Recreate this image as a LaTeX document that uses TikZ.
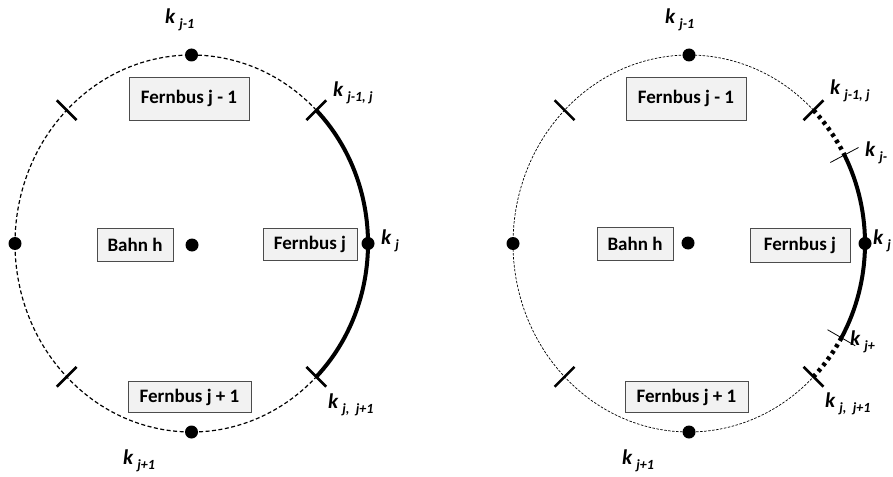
\documentclass[tikz,border=0pt]{standalone}
\usepackage{fontspec}
\setmainfont{Carlito}
\usetikzlibrary{calc}
% label "k" with a lowered index
\newcommand\klab[1]{{\fontsize{21}{21}\selectfont\bfseries\itshape k\hspace{4pt}\raisebox{-4.5pt}{\fontsize{14}{14}\selectfont #1}}}
\begin{document}
\begin{tikzpicture}[x=1pt,y=1pt,
  box/.style={draw=black!70, fill=black!5, line width=0.9pt, inner sep=0pt,
    font=\fontsize{19}{19}\selectfont\bfseries},
  dot/.style={circle, fill=black, inner sep=0pt, minimum size=13pt},
  lab/.style={anchor=west, inner sep=0pt},
  tickmark/.style={line width=2.6pt},
  finetick/.style={line width=0.8pt},
  ring/.style={line width=1.2pt, dash pattern=on 4pt off 2.5pt},
  finering/.style={line width=0.7pt, dash pattern=on 2.5pt off 1.5pt},
  boldarc/.style={line width=4pt},
  dotarc/.style={line width=4.5pt, dash pattern=on 3.5pt off 4pt}]
\useasboundingbox (0,0) rectangle (893,-476);

% ---------------- left ring ----------------
\begin{scope}[shift={(191.5,-243.5)}]
  \coordinate (LA) at (45:176.5 and 188.5);
  \coordinate (LB) at (-45:176.5 and 188.5);
  \draw[ring] (LA) arc[start angle=45, end angle=315, x radius=176.5, y radius=188.5];
  \draw[boldarc] (LB) arc[start angle=-45, end angle=45, x radius=176.5, y radius=188.5];
  \foreach \a in {45,135,225,315}
    \draw[tickmark] (\a:162.5 and 174.5) -- (\a:190.5 and 202.5);
  \node[dot] (Ltop) at (90:176.5 and 188.5) {};
  \node[dot] (Lbot) at (270:176.5 and 188.5) {};
  \node[dot] (Lleft) at (180:176.5 and 188.5) {};
  \node[dot] (Lright) at (0:176.5 and 188.5) {};
\end{scope}
\node[dot] (Lmid) at (192,-245) {};
\node[box, minimum width=120pt, minimum height=43pt] (Lfb1) at (189,-98.5) {Fernbus j - 1};
\node[box, minimum width=76pt, minimum height=33pt] (Lbahn) at (135,-244.5) {Bahn h};
\node[box, minimum width=94pt, minimum height=32pt] (Lfbj) at (310,-244) {Fernbus j};
\node[box, minimum width=123pt, minimum height=31pt] (Lfb2) at (189.5,-397) {Fernbus j + 1};
\node[lab] (Lk1) at (165,-20) {\klab{j-1}};
\node[lab] (Lk2) at (333,-93) {\klab{j-1, j}};
\node[lab] (Lk3) at (381,-241) {\klab{j}};
\node[lab] (Lk4) at (328,-405) {\klab{j,\ \ j+1}};
\node[lab] (Lk5) at (123,-461) {\klab{j+1}};

% ---------------- right ring ----------------
\begin{scope}[shift={(689,-243.5)}]
  \coordinate (RA) at (45:176 and 188.5);
  \coordinate (RB) at (-45:176 and 188.5);
  \coordinate (RC) at (28:176 and 188.5);
  \coordinate (RD) at (-30:176 and 188.5);
  \draw[finering] (RA) arc[start angle=45, end angle=315, x radius=176, y radius=188.5];
  \draw[dotarc] (RA) arc[start angle=45, end angle=28, x radius=176, y radius=188.5];
  \draw[boldarc] (RC) arc[start angle=28, end angle=-30, x radius=176, y radius=188.5];
  \draw[dotarc] (RD) arc[start angle=-30, end angle=-45, x radius=176, y radius=188.5];
  \foreach \a in {45,135,225,315}
    \draw[tickmark] (\a:162 and 174.5) -- (\a:190 and 202.5);
  \draw[finetick] (28:160 and 172.5) -- (28:192 and 204.5);
  \draw[finetick] (-30:160 and 172.5) -- (-30:192 and 204.5);
  \node[dot] (Rtop) at (90:176 and 188.5) {};
  \node[dot] (Rbot) at (270:176 and 188.5) {};
  \node[dot] (Rleft) at (180:176 and 188.5) {};
  \node[dot] (Rright) at (0:176 and 188.5) {};
\end{scope}
\node[dot] (Rmid) at (688,-243) {};
\node[box, minimum width=120pt, minimum height=43pt] (Rfb1) at (686,-98.5) {Fernbus j - 1};
\node[box, minimum width=76pt, minimum height=33pt] (Rbahn) at (635,-243.5) {Bahn h};
\node[box, minimum width=100pt, minimum height=34pt] (Rfbj) at (800,-245) {Fernbus j};
\node[box, minimum width=123pt, minimum height=31pt] (Rfb2) at (686.5,-397) {Fernbus j + 1};
\node[lab] (Rk1) at (665,-20) {\klab{j-1}};
\node[lab] (Rk2) at (830,-91) {\klab{j-1, j}};
\node[lab] (Rk3) at (865,-153) {\klab{j-}};
\node[lab] (Rk4) at (873,-241) {\klab{j}};
\node[lab] (Rk5) at (850,-342) {\klab{j+}};
\node[lab] (Rk6) at (825,-404) {\klab{j,\ \ j+1}};
\node[lab] (Rk7) at (622,-461) {\klab{j+1}};
\end{tikzpicture}
\end{document}
